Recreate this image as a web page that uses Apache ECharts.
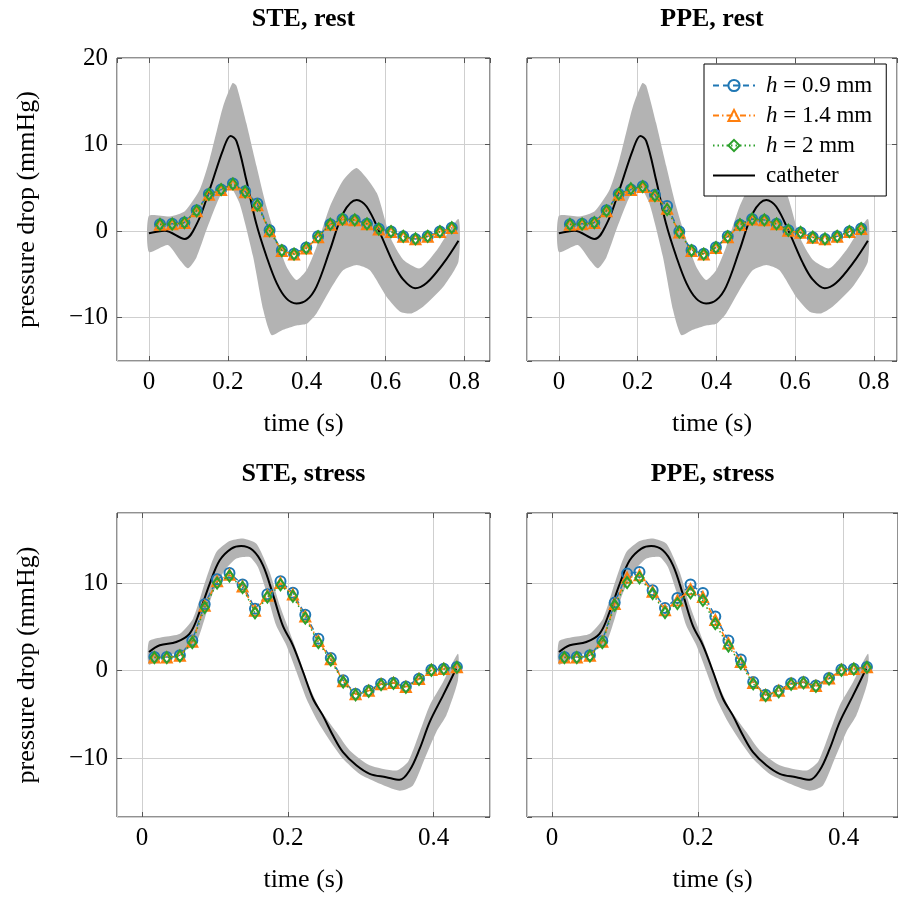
<!DOCTYPE html>
<html>
<head>
<meta charset="utf-8">
<script src="https://cdn.jsdelivr.net/npm/echarts@6.0.0/dist/echarts.min.js"></script>
<style>
  html, body { margin: 0; padding: 0; background: #fff; }
  #chart { width: 898px; height: 899px; }
</style>
</head>
<body>
<div id="chart"></div>
<script>
// ---- data ----
// rest: catheter mean and its band
const restCath = [[0, -0.25], [0.04, 0.05], [0.091, -0.9], [0.122, 0.9], [0.154, 4.8], [0.188, 9.4], [0.207, 11.0],
  [0.222, 10.4], [0.247, 5.9], [0.272, 0.9], [0.298, -2.9], [0.324, -6.0], [0.349, -7.8], [0.374, -8.35], [0.40, -7.96],
  [0.425, -6.4], [0.459, -2.2], [0.493, 2.1], [0.527, 3.6], [0.552, 2.85], [0.586, -0.23], [0.62, -3.7], [0.645, -5.6],
  [0.675, -6.6], [0.704, -6.0], [0.747, -3.7], [0.785, -1.1]];
const restHi = [[0, 1.77], [0.053, 1.7], [0.091, 2.3], [0.129, 4.8], [0.154, 8.3], [0.188, 14.4], [0.212, 17.1],
  [0.222, 16.8], [0.247, 12.5], [0.273, 7.5], [0.298, 2.85], [0.324, -1.0], [0.349, -4.1], [0.374, -5.65], [0.40, -4.5],
  [0.425, -1.8], [0.459, 2.85], [0.493, 5.9], [0.527, 7.3], [0.578, 4.4], [0.611, -0.6], [0.645, -3.3], [0.687, -4.3],
  [0.73, -2.2], [0.785, 1.4]];
const restLo = [[0, -2.4], [0.048, -1.6], [0.078, -3.3], [0.099, -4.3], [0.12, -3.1], [0.146, 0.15], [0.18, 4.0],
  [0.205, 5.2], [0.23, 3.2], [0.264, -2.9], [0.29, -9.1], [0.311, -12.0], [0.34, -11.4], [0.374, -10.9], [0.40, -10.7],
  [0.425, -9.5], [0.459, -6.8], [0.493, -4.5], [0.527, -3.9], [0.56, -4.5], [0.603, -7.6], [0.637, -9.3], [0.666, -9.5],
  [0.696, -8.7], [0.747, -6.4], [0.785, -3.5]];

// rest: simulated pressure drop
const restT = [0.028, 0.059, 0.09, 0.121, 0.152, 0.183, 0.213, 0.244, 0.275, 0.306, 0.337, 0.368, 0.399,
  0.429, 0.46, 0.491, 0.522, 0.553, 0.583, 0.614, 0.645, 0.676, 0.707, 0.738, 0.768];
const steRest09 = [0.81, 0.85, 1.0, 2.4, 4.3, 4.8, 5.5, 4.6, 3.2, 0.1, -2.2, -2.6, -1.9, -0.6, 0.8, 1.4, 1.3, 0.85, 0.27, -0.05, -0.6, -0.9, -0.6, -0.05, 0.4];
const steRest14 = [0.75, 0.8, 0.95, 2.3, 4.2, 4.75, 5.4, 4.5, 3.0, 0.0, -2.3, -2.7, -2.0, -0.7, 0.75, 1.35, 1.25, 0.8, 0.2, -0.1, -0.65, -0.95, -0.65, -0.1, 0.35];
const steRest2 = [0.78, 0.82, 0.98, 2.35, 4.25, 4.8, 5.45, 4.55, 3.0, 0.05, -2.25, -2.65, -1.95, -0.65, 0.8, 1.4, 1.3, 0.85, 0.25, -0.05, -0.6, -0.9, -0.6, -0.05, 0.4];
const ppeRest09 = [0.81, 0.85, 1.0, 2.4, 4.3, 4.8, 5.2, 4.2, 2.9, -0.05, -2.2, -2.6, -1.85, -0.6, 0.75, 1.4, 1.3, 0.85, 0.1, -0.15, -0.7, -0.9, -0.6, -0.05, 0.3];
const ppeRest14 = [0.75, 0.8, 0.95, 2.3, 4.2, 4.75, 5.1, 4.1, 2.6, -0.15, -2.3, -2.7, -1.95, -0.7, 0.7, 1.35, 1.25, 0.8, 0.05, -0.2, -0.75, -0.95, -0.65, -0.1, 0.25];
const ppeRest2 = [0.78, 0.82, 0.98, 2.35, 4.3, 4.9, 5.15, 4.1, 2.5, -0.1, -2.25, -2.65, -1.9, -0.65, 0.75, 1.4, 1.3, 0.85, 0.1, -0.15, -0.7, -0.9, -0.6, -0.05, 0.3];

// stress: catheter mean and its band
const stressCath = [[0.0096, 2.13], [0.0243, 2.9], [0.047, 3.27], [0.0654, 4.23], [0.079, 6.7], [0.093, 9.94],
  [0.1066, 12.6], [0.1226, 13.94], [0.136, 14.24], [0.152, 13.75], [0.166, 12.03], [0.18, 8.6], [0.193, 5.18],
  [0.207, 2.9], [0.221, -0.15], [0.2346, -3.2], [0.248, -5.1], [0.262, -7.4], [0.2757, -9.3], [0.294, -10.8],
  [0.3123, -11.77], [0.335, -12.16], [0.3535, -12.46], [0.367, -11.4], [0.381, -8.9], [0.3946, -5.87], [0.413, -2.82],
  [0.431, 0.23]];
const stressHi = [[0.0096, 3.35], [0.029, 3.84], [0.052, 4.23], [0.07, 5.94], [0.088, 10.5], [0.102, 13.55],
  [0.12, 14.8], [0.1386, 15.1], [0.157, 14.5], [0.175, 11.3], [0.189, 7.46], [0.2026, 4.41], [0.216, 1.37],
  [0.23, -1.87], [0.2438, -4.34], [0.2667, -7.0], [0.285, -9.1], [0.3123, -10.8], [0.349, -11.4], [0.365, -10.4],
  [0.381, -7.0], [0.3946, -3.97], [0.413, -1.3], [0.4335, 1.94]];
const stressLo = [[0.0096, 0.69], [0.0334, 1.75], [0.056, 2.13], [0.0746, 3.27], [0.086, 5.94], [0.097, 8.8],
  [0.1134, 11.46], [0.1295, 12.8], [0.1477, 12.98], [0.159, 11.84], [0.1707, 9.0], [0.184, 5.18], [0.198, 2.9],
  [0.212, -0.15], [0.2255, -3.2], [0.2415, -5.87], [0.2575, -7.97], [0.2757, -10.06], [0.2986, -11.8],
  [0.3215, -12.73], [0.3535, -13.7], [0.3717, -13.1], [0.3878, -10.06], [0.4038, -7.0], [0.4176, -5.1], [0.4335, -1.1]];

// stress: simulated pressure drop
const stressT = [0.017, 0.034, 0.052, 0.069, 0.086, 0.103, 0.12, 0.138, 0.155, 0.172, 0.19, 0.207, 0.224,
  0.242, 0.259, 0.276, 0.293, 0.311, 0.328, 0.345, 0.362, 0.38, 0.397, 0.414, 0.432];
const steStress09 = [1.56, 1.56, 1.75, 3.46, 7.58, 10.43, 11.15, 9.83, 7.08, 8.72, 10.2, 8.9, 6.4, 3.66, 1.44, -1.1, -2.63, -2.25, -1.49, -1.37, -1.8, -0.91, 0.11, 0.23, 0.41];
const steStress14 = [1.5, 1.5, 1.7, 3.3, 7.4, 10.2, 10.95, 9.6, 6.85, 8.55, 10.0, 8.7, 6.2, 3.4, 1.3, -1.2, -2.7, -2.3, -1.55, -1.4, -1.85, -0.95, 0.08, 0.2, 0.4];
const steStress2 = [1.5, 1.5, 1.68, 3.2, 7.2, 10.0, 10.8, 9.5, 6.6, 8.4, 9.8, 8.5, 6.0, 3.2, 1.2, -1.3, -2.75, -2.35, -1.6, -1.45, -1.9, -1.0, 0.05, 0.18, 0.38];
const ppeStress09 = [1.56, 1.56, 1.75, 3.39, 7.77, 11.08, 11.27, 9.18, 7.16, 8.3, 9.83, 8.87, 6.2, 3.46, 1.29, -1.3, -2.74, -2.25, -1.42, -1.3, -1.68, -0.84, 0.15, 0.23, 0.41];
const ppeStress14 = [1.5, 1.5, 1.7, 3.3, 7.6, 10.6, 10.9, 9.0, 6.9, 8.0, 9.3, 8.4, 5.8, 3.1, 1.0, -1.4, -2.8, -2.3, -1.5, -1.35, -1.75, -0.9, 0.1, 0.2, 0.4];
const ppeStress2 = [1.5, 1.5, 1.68, 3.2, 7.46, 10.06, 10.6, 8.8, 6.63, 7.66, 8.9, 8.03, 5.37, 2.81, 0.8, -1.5, -2.85, -2.4, -1.55, -1.4, -1.8, -0.95, 0.05, 0.18, 0.38];

const legendNames = ['h09', 'h14', 'h2', 'catheter'];
const legendLabels = {h09: '{i|h} = 0.9 mm', h14: '{i|h} = 1.4 mm', h2: '{i|h} = 2 mm', catheter: 'catheter'};

// ---- layout ----
const FONT = 'Liberation Serif';
const panels = [
  {title: 'STE, rest', left: 117, top: 58, width: 373, height: 303, x: [-0.081, 0.865], y: [-15, 20], xSplit: 5,
    yLabels: true, t: restT, sims: [steRest09, steRest14, steRest2], cath: restCath, hi: restHi, lo: restLo},
  {title: 'PPE, rest', left: 527, top: 58, width: 370, height: 303, x: [-0.081, 0.859], y: [-15, 20], xSplit: 5,
    yLabels: false, t: restT, sims: [ppeRest09, ppeRest14, ppeRest2], cath: restCath, hi: restHi, lo: restLo},
  {title: 'STE, stress', left: 117, top: 513, width: 373, height: 304, x: [-0.0343, 0.4774], y: [-16.7, 18], xSplit: 3,
    yLabels: true, t: stressT, sims: [steStress09, steStress14, steStress2], cath: stressCath, hi: stressHi, lo: stressLo},
  {title: 'PPE, stress', left: 527, top: 513, width: 371, height: 304, x: [-0.0343, 0.4746], y: [-16.7, 18], xSplit: 3,
    yLabels: false, t: stressT, sims: [ppeStress09, ppeStress14, ppeStress2], cath: stressCath, hi: stressHi, lo: stressLo}
];

const simStyles = [
  {name: 'h09', color: '#1f77b4', dash: [6, 4], symbol: 'circle', size: 10},
  {name: 'h14', color: '#ff7f0e', dash: [6, 3, 1.5, 3], symbol: 'triangle', size: 10},
  {name: 'h2', color: '#2ca02c', dash: [1.5, 3], symbol: 'diamond', size: [8, 11]}
];

const fmt = v => {
  const s = +v.toFixed(2);
  return s < 0 ? '\u2212' + (-s) : String(s);
};
const noLine = {show: false, onZero: false};
const tickStyle = {inside: true, length: 5, lineStyle: {color: '#555'}};
const labelStyle = {fontFamily: FONT, fontSize: 25, color: '#000', margin: 9, formatter: fmt};
const nameStyle = {fontFamily: FONT, fontSize: 26, color: '#000'};

const grids = [], xAxes = [], yAxes = [], series = [], titles = [];

panels.forEach((p, i) => {
  grids.push({left: p.left, top: p.top, width: p.width, height: p.height, show: true,
    borderColor: '#222', borderWidth: 1, backgroundColor: 'transparent'});
  titles.push({text: p.title, left: p.left + p.width / 2, top: p.top - 52, textAlign: 'center', padding: 0,
    textStyle: {fontFamily: FONT, fontSize: 26, fontWeight: 'bold', color: '#000'}});

  xAxes.push({type: 'value', gridIndex: i, position: 'bottom', min: p.x[0], max: p.x[1], splitNumber: p.xSplit,
    axisLine: noLine, axisTick: tickStyle, splitLine: {lineStyle: {color: '#cfcfcf'}},
    axisLabel: Object.assign({showMinLabel: false, showMaxLabel: false}, labelStyle),
    name: 'time (s)', nameLocation: 'middle', nameGap: 50, nameTextStyle: nameStyle});
  xAxes.push({type: 'value', gridIndex: i, position: 'top', min: p.x[0], max: p.x[1], splitNumber: p.xSplit,
    axisLine: noLine, axisTick: tickStyle, splitLine: {show: false}, axisLabel: {show: false}});

  yAxes.push({type: 'value', gridIndex: i, position: 'left', min: p.y[0], max: p.y[1], splitNumber: 4,
    axisLine: noLine, axisTick: tickStyle, splitLine: {lineStyle: {color: '#cfcfcf'}},
    axisLabel: Object.assign({show: p.yLabels, showMinLabel: false, showMaxLabel: p.y[1] % 10 === 0}, labelStyle),
    name: p.yLabels ? 'pressure drop (mmHg)' : '', nameLocation: 'middle', nameGap: 77, nameRotate: 90,
    nameTextStyle: nameStyle});
  yAxes.push({type: 'value', gridIndex: i, position: 'right', min: p.y[0], max: p.y[1], splitNumber: 4,
    axisLine: noLine, axisTick: tickStyle, splitLine: {show: false}, axisLabel: {show: false}});

  const xi = 2 * i, yi = 2 * i;
  // spread of the catheter measurement
  series.push({type: 'custom', xAxisIndex: xi, yAxisIndex: yi, silent: true, z: 1, data: [[0, 0]],
    renderItem: (params, api) => {
      const pts = p.hi.concat(p.lo.slice().reverse()).map(d => api.coord(d));
      return {type: 'polygon', shape: {points: pts, smooth: 0.2}, style: {fill: '#b3b3b3'}};
    }});
  series.push({type: 'line', name: 'catheter', xAxisIndex: xi, yAxisIndex: yi, data: p.cath, symbol: 'none',
    smooth: 0.35, z: 3, lineStyle: {color: '#000', width: 2}, itemStyle: {color: '#000'}});
  p.sims.forEach((vals, k) => {
    const s = simStyles[k];
    series.push({type: 'line', name: s.name, xAxisIndex: xi, yAxisIndex: yi, z: 4 + k,
      data: p.t.map((t, j) => [t, vals[j]]),
      symbol: s.symbol, symbolSize: s.size, showAllSymbol: true,
      lineStyle: {color: s.color, width: 1.5, type: s.dash},
      itemStyle: {color: 'rgba(255,255,255,0)', borderColor: s.color, borderWidth: 2}});
  });
});

const chart = echarts.init(document.getElementById('chart'));
chart.setOption({
  animation: false,
  backgroundColor: '#fff',
  title: titles,
  grid: grids,
  xAxis: xAxes,
  yAxis: yAxes,
  legend: {
    data: legendNames.map(n => n === 'catheter'
      ? {name: n, itemStyle: {opacity: 0, borderWidth: 0}}
      : {name: n}),
    orient: 'vertical', left: 704, top: 64,
    itemWidth: 42, itemHeight: 14, itemGap: 7, padding: [10, 14, 9, 8],
    backgroundColor: '#fff', borderColor: '#000', borderWidth: 1, borderRadius: 0,
    selectedMode: false,
    formatter: n => legendLabels[n],
    textStyle: {fontFamily: FONT, fontSize: 23, color: '#000', lineHeight: 22, padding: [0, 0, 0, 6],
      rich: {i: {fontFamily: FONT, fontSize: 23, fontStyle: 'italic', color: '#000'}}}
  },
  series: series
});
</script>
</body>
</html>
